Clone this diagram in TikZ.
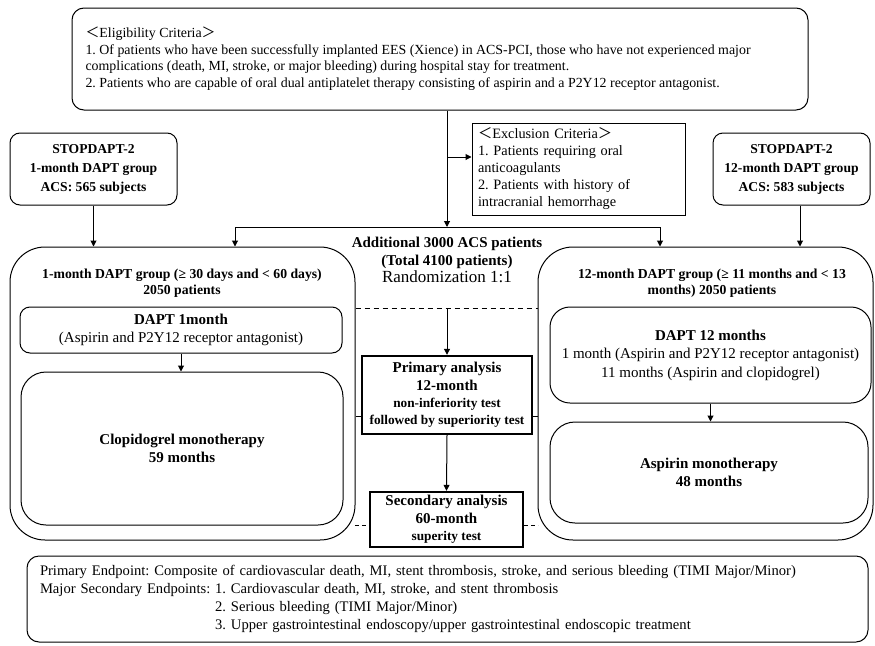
\documentclass[tikz,border=0pt]{standalone}
\usepackage{fontspec}
\setmainfont{Liberation Serif}
\newfontfamily\cjk{Noto Sans CJK JP}
\usetikzlibrary{arrows.meta}
\frenchspacing
\newcommand\lab{\leavevmode\smash{\cjk ＜}}
\newcommand\rab{\smash{\cjk ＞}}
\newcommand\fEl{\fontsize{13.9}{16.5}\selectfont}
\newcommand\fEx{\fontsize{14.3}{17.2}\selectfont}
\newcommand\fSt{\bfseries\fontsize{13.6}{19}\selectfont}
\newcommand\fGh{\bfseries\fontsize{13.7}{16}\selectfont}
\newcommand\fBig{\bfseries\fontsize{15}{18}\selectfont}
\newcommand\fReg{\fontsize{15}{18}\selectfont}
\newcommand\fSm{\bfseries\fontsize{13.3}{16}\selectfont}
\begin{document}
\begin{tikzpicture}[x=1pt,y=-1pt,line width=1pt,
  box/.style={draw,inner sep=0pt,align=center},
  eline/.style={anchor=base west,inner sep=0pt,font=\fEl},
  arr/.style={-{Triangle[length=6pt,width=6pt]}},
  dsh/.style={dash pattern=on 5pt off 4pt},
  dshs/.style={dash pattern=on 4pt off 3pt},
  thickbox/.style={draw,line width=2.4pt,inner sep=0pt,align=center}]
\useasboundingbox (0,0) rectangle (875,645);

% eligibility
\node[draw,rounded corners=12pt,minimum width=736pt,minimum height=102pt,inner sep=0pt] (elig) at (440,59) {};
\node[eline] (e1) at (85,37) {\lab Eligibility Criteria\rab};
\node[eline] (e2) at (85,54) {1. Of patients who have been successfully implanted EES (Xience) in ACS-PCI, those who have not experienced major};
\node[eline] (e3) at (85,70.5) {complications (death, MI, stroke, or major bleeding) during hospital stay for treatment.};
\node[eline] (e4) at (85,87) {2. Patients who are capable of oral dual antiplatelet therapy consisting of aspirin and a P2Y12 receptor antagonist.};

% exclusion
\node[draw,inner xsep=6pt,inner ysep=0pt,minimum width=213pt,minimum height=92pt,text width=201pt,align=left,font=\fEx] (excl) at (578.5,169)
 {\noindent\lab Exclusion Criteria\rab\\1. Patients requiring oral\\anticoagulants\\2. Patients with history of\\intracranial hemorrhage};

% STOPDAPT boxes
\node[box,rounded corners=10pt,minimum width=167pt,minimum height=72pt,font=\fSt] (stopL) at (93.5,169)
 {STOPDAPT-2\\1-month DAPT group\\ACS: 565 subjects};
\node[box,rounded corners=10pt,minimum width=157pt,minimum height=72pt,font=\fSt] (stopR) at (791.5,169)
 {STOPDAPT-2\\12-month DAPT group\\ACS: 583 subjects};

% randomisation text
\node[inner sep=0pt,align=center,font=\fontsize{15}{17.5}\selectfont] (addl) at (447,260)
 {{\fBig Additional 3000 ACS patients}\\{\fBig (Total 4100 patients)}\\{\fontsize{17}{18}\selectfont Randomization 1:1}};

% group boxes
\node[box,rounded corners=35pt,minimum width=345pt,minimum height=293pt] (grpL) at (182.5,393.5) {};
\node[box,rounded corners=35pt,minimum width=335pt,minimum height=293pt] (grpR) at (705.5,393.5) {};
\node[inner sep=0pt,align=center,font=\fGh] (grpLt) at (182,283)
 {1-month DAPT group (≥ 30 days and < 60 days)\\2050 patients};
\node[inner sep=0pt,align=center,font=\fGh] (grpRt) at (712,283)
 {12-month DAPT group (≥ 11 months and < 13\\months) 2050 patients};

% inner boxes left
\node[box,rounded corners=10pt,minimum width=322pt,minimum height=46pt,font=\fontsize{15}{18}\selectfont] (dapt1) at (181,330)
 {{\fBig DAPT 1month}\\{\fReg (Aspirin and P2Y12 receptor antagonist)}};
\node[box,rounded corners=25pt,minimum width=322pt,minimum height=153pt,font=\fBig] (clop) at (182,448.5)
 {Clopidogrel monotherapy\\59 months};

% inner boxes right
\node[box,rounded corners=20pt,minimum width=321pt,minimum height=96pt,font=\fontsize{15}{18.5}\selectfont] (dapt12) at (710.5,355)
 {{\fBig DAPT 12 months}\\{\fReg 1 month (Aspirin and P2Y12 receptor antagonist)}\\{\fReg 11 months (Aspirin and clopidogrel)}};
\node[box,rounded corners=25pt,minimum width=318pt,minimum height=101pt,font=\fBig] (asp) at (709,472.5)
 {Aspirin monotherapy\\48 months};

% analysis boxes
\node[thickbox,minimum width=170pt,minimum height=78pt,font=\fontsize{15}{17.3}\selectfont] (prim) at (447,395)
 {{\fBig Primary analysis}\\{\fBig 12-month}\\{\fSm non-inferiority test}\\{\fSm followed by superiority test}};
\node[thickbox,minimum width=153pt,minimum height=55pt,font=\fontsize{15}{17.5}\selectfont] (sec) at (446.5,519.5)
 {{\fBig Secondary analysis}\\{\fBig 60-month}\\{\fSm superity test}};

% endpoints
\node[box,rounded corners=12pt,minimum height=86pt,text width=815pt,inner xsep=13pt,align=left,font=\fontsize{14.6}{17.8}\selectfont] (endp) at (447.5,599)
 {Primary Endpoint: Composite of cardiovascular death, MI, stent thrombosis, stroke, and serious bleeding (TIMI Major/Minor)\\%
Major Secondary Endpoints: 1. Cardiovascular death, MI, stroke, and stent thrombosis\\%
\hphantom{Major Secondary Endpoints: }2. Serious bleeding (TIMI Major/Minor)\\%
\hphantom{Major Secondary Endpoints: }3. Upper gastrointestinal endoscopy/upper gastrointestinal endoscopic treatment};

% connectors
\coordinate (split) at (447,227);
\coordinate (brch) at (447,157);
\coordinate (hl) at (235,227);
\coordinate (hr) at (660,227);
\draw[arr] (elig.south -| split) -- (split);
\draw[arr] (brch) -- (brch -| excl.west);
\draw (hl) -- (hr);
\draw[arr] (hl) -- (hl |- grpL.north);
\draw[arr] (hr) -- (hr |- grpR.north);
\draw[arr] (stopL.south) -- (stopL.south |- grpL.north);
\draw[arr] ([xshift=8.5pt]stopR.south) -- ([xshift=8.5pt]stopR.south |- grpR.north);
\draw[arr] (dapt1.south) -- (dapt1.south |- clop.north);
\draw[arr] (dapt12.south) -- (dapt12.south |- asp.north);
\coordinate (dashy) at (447,308);
\draw[dsh] (grpL.east |- dashy) -- (grpR.west |- dashy);
\draw[arr] (dashy) -- (prim.north);
\coordinate (py) at (447,416);
\draw (grpL.east |- py) -- (prim.west |- py);
\draw (prim.east |- py) -- (grpR.west |- py);
\draw[arr] (prim.south) -- (sec.north);
\coordinate (sy) at (447,525);
\draw[dshs] ([xshift=-14pt]sec.west |- sy) -- (sec.west |- sy);
\draw[dshs] (sec.east |- sy) -- ([xshift=14pt]sec.east |- sy);
\end{tikzpicture}
\end{document}
